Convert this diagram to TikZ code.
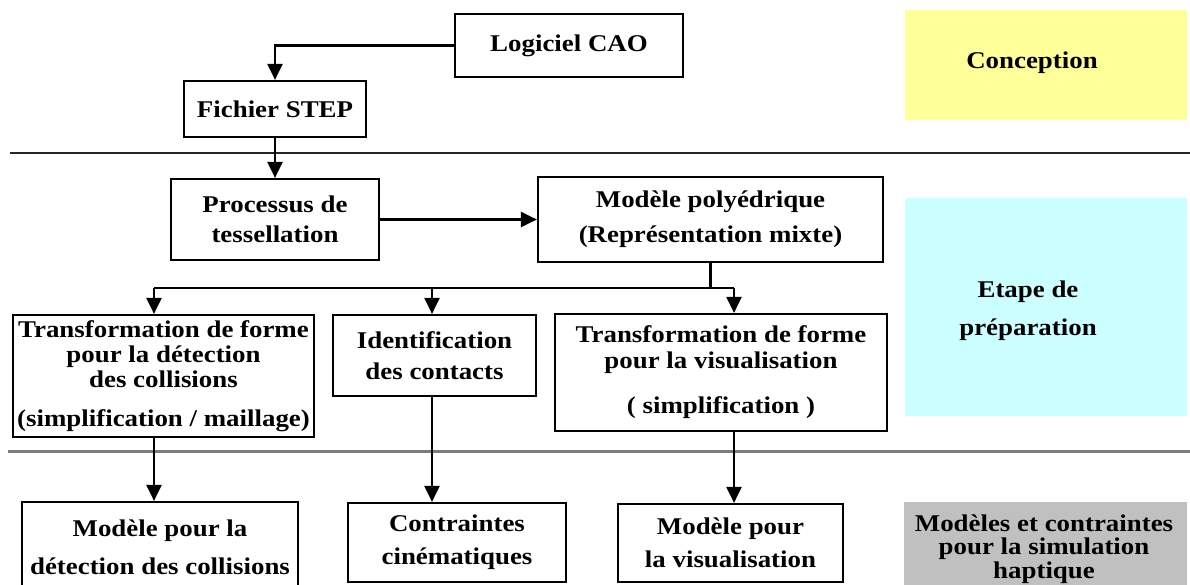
\documentclass[tikz,border=0pt]{standalone}
\usepackage{fontspec}
\setmainfont{Liberation Serif}[FakeStretch=1.12]
\usetikzlibrary{arrows.meta}
\definecolor{concyellow}{RGB}{255,255,153}
\definecolor{prepcyan}{RGB}{204,255,255}
\definecolor{hapgray}{RGB}{192,192,192}
\definecolor{sepgray}{RGB}{125,125,125}
\tikzset{
  stepbox/.style={draw=black, line width=2.2pt, inner sep=0pt, align=center,
    font=\fontsize{24}{25}\selectfont\bfseries, text=black},
  zonebox/.style={inner sep=0pt, draw=none},
  zonetext/.style={inner sep=0pt, align=center, font=\fontsize{24}{25}\selectfont\bfseries},
  arrowline/.style={line width=2.2pt, -{Triangle[width=15pt,length=16pt]}},
  plainline/.style={line width=2.2pt},
}
\begin{document}
\begin{tikzpicture}[x=1pt,y=-1pt]
\useasboundingbox (0,0) rectangle (1190,585);
\clip (0,0) rectangle (1190,585);

% zone backgrounds
\node[zonebox, fill=concyellow, minimum width=282pt, minimum height=110pt] (conczone) at (1046,65) {};
\node[zonetext] (conctext) at (1032,63) {Conception};
\node[zonebox, fill=prepcyan, minimum width=282pt, minimum height=218pt] (prepzone) at (1046,307) {};
\node[zonetext] (preptext) at (1028,311) {Etape de\\[13pt]préparation};
\node[zonebox, fill=hapgray, minimum width=283pt, minimum height=100pt] (hapzone) at (1045.5,552) {};
\node[zonetext, font=\fontsize{24}{23.5}\selectfont\bfseries] (haptext) at (1044,549) {Modèles et contraintes\\pour la simulation\\haptique};

% separators
\draw[line width=2.2pt, black!85] (10,153) -- (1190,153);
\draw[line width=3pt, sepgray] (8,451) -- (1190,451);

% boxes
\node[stepbox, minimum width=228pt, minimum height=63pt] (cao) at (569,45.5) {Logiciel CAO};
\node[stepbox, minimum width=182pt, minimum height=56pt] (fstep) at (275,109) {Fichier STEP};
\node[stepbox, minimum width=208pt, minimum height=81pt] (tess) at (275,219.5) {Processus de\\[5pt]tessellation};
\node[stepbox, minimum width=345pt, minimum height=85pt] (poly) at (710.5,219.5) {Modèle polyédrique\\[10pt](Représentation mixte)};
\node[stepbox, minimum width=301pt, minimum height=122pt] (tfc) at (163.5,376) {Transformation de forme\\pour la détection\\des collisions\\[14pt](simplification / maillage)};
\node[stepbox, minimum width=203pt, minimum height=81pt] (ident) at (434.5,355.5) {Identification\\[6pt]des contacts};
\node[stepbox, minimum width=332pt, minimum height=117pt] (tfv) at (721,372.5) {Transformation de forme\\[1pt]pour la visualisation\\[20pt]( simplification )};
\node[stepbox, minimum width=276pt, minimum height=90pt] (mcol) at (160,547) {Modèle pour la\\[13pt]détection des collisions};
\node[stepbox, minimum width=218pt, minimum height=79pt] (cine) at (457,542.5) {Contraintes\\[8pt]cinématiques};
\node[stepbox, minimum width=225pt, minimum height=78pt] (mvis) at (730.5,543) {Modèle pour\\[8pt]la visualisation};

% branch points
\coordinate (b1) at (154,288);
\coordinate (b2) at (432,288);
\coordinate (b3) at (734,288);

% connectors
\draw[arrowline] (cao.west) -| (fstep.north);
\draw[arrowline] (fstep.south) -- (tess.north);
\draw[arrowline] (tess.east) -- (poly.west);
\draw[plainline] (poly.south) -- (poly.south |- b1);
\draw[plainline] (b1) -- (b3);
\draw[arrowline] (b1) -- (b1 |- tfc.north);
\draw[arrowline] (b2) -- (b2 |- ident.north);
\draw[arrowline] (b3) -- (b3 |- tfv.north);
\draw[arrowline] (b1 |- tfc.south) -- (b1 |- mcol.north);
\draw[arrowline] (b2 |- ident.south) -- (b2 |- cine.north);
\draw[arrowline] (b3 |- tfv.south) -- (b3 |- mvis.north);
\end{tikzpicture}
\end{document}
